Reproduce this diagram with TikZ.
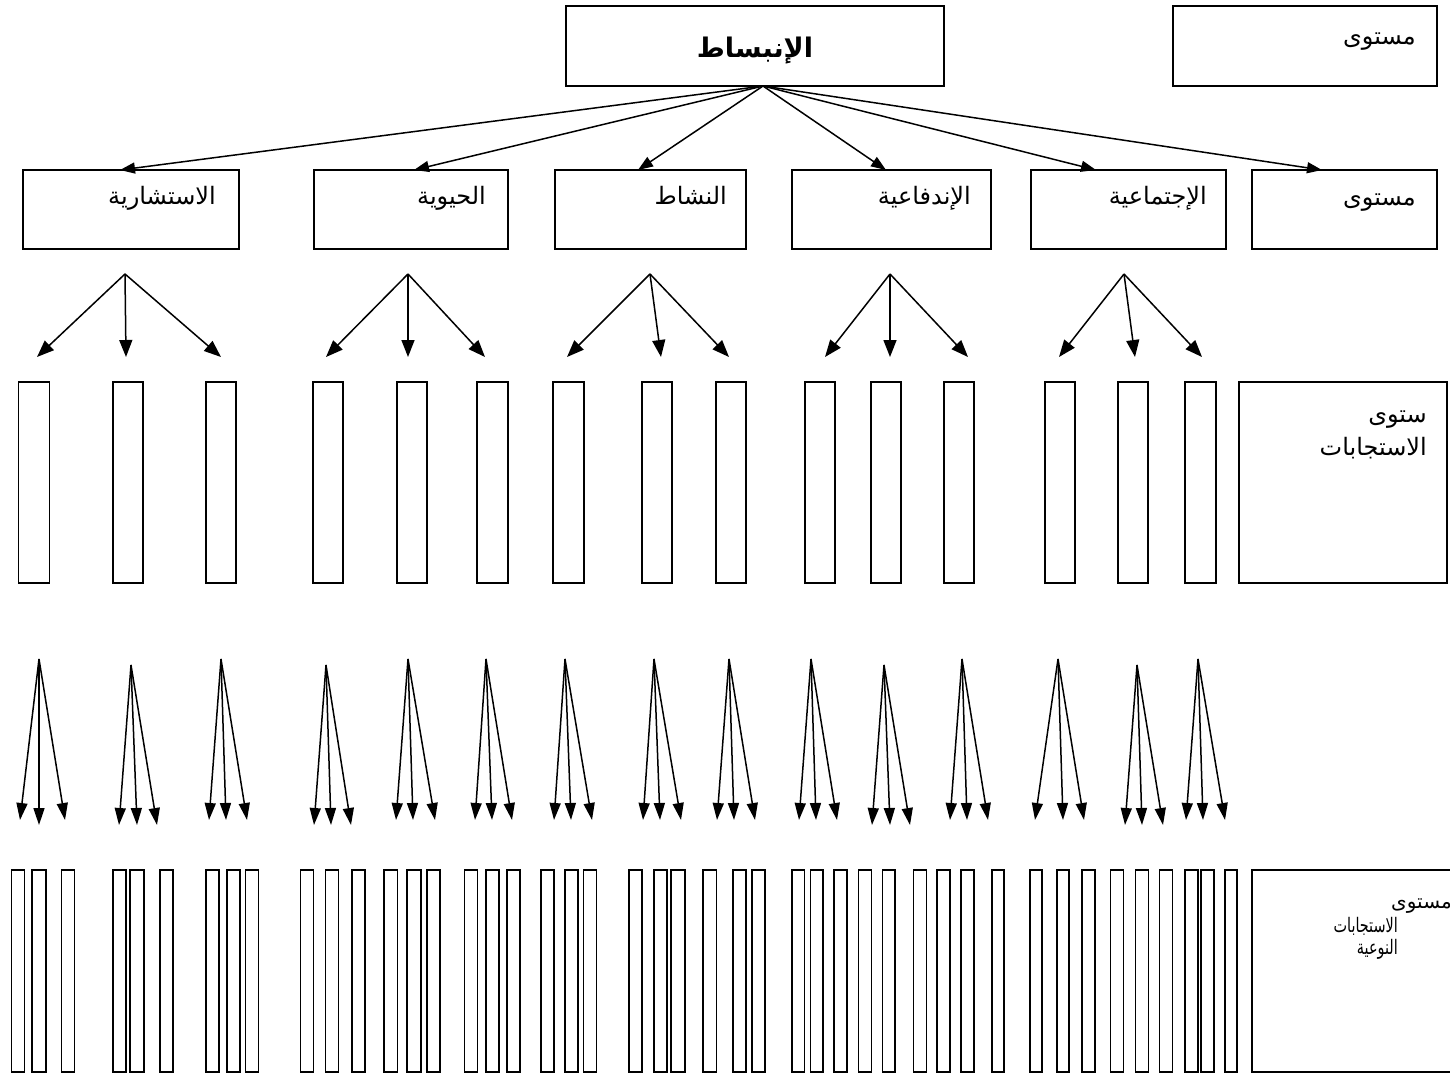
\documentclass[tikz,border=0pt]{standalone}
\usepackage{fontspec}
\usepackage{graphicx}
\newfontfamily\arabicfont[Script=Arabic]{DejaVu Sans}
\TeXXeTstate=1
\usetikzlibrary{arrows.meta}
\tikzset{
  box/.style={draw, line width=1.6pt, inner sep=0pt, rectangle},
  lbl/.style={anchor=base east, inner sep=0pt, font=\arabicfont\fontsize{24}{28}\selectfont},
  smalllbl/.style={anchor=base east, inner sep=0pt, font=\arabicfont\fontsize{20}{24}\selectfont},
  ttl/.style={anchor=base, inner sep=0pt, font=\arabicfont\bfseries\fontsize{27}{32}\selectfont},
  toparr/.style={line width=1.5pt, -{Triangle[length=15pt,width=11pt]}},
  arr/.style={line width=1.5pt, -{Triangle[length=17pt,width=13pt]}},
  farr/.style={line width=1.5pt, -{Triangle[length=17pt,width=11pt]}},
}
\newcommand\mybox[5]{\node[box, minimum width={(#4-#2)*1pt}, minimum height={(#5-#3)*1pt}] (#1) at ({(#2+#4)/2},{(#3+#5)/2}) {};}
\begin{document}
\begin{tikzpicture}[x=1pt,y=-1pt]
\useasboundingbox (0,0) rectangle (1450,1073);
\clip (0,0) rectangle (1450,1073);
% top row
\mybox{main}{566}{6}{944}{86}
\node[ttl] (title) at (755,58) {\beginR الإنبساط\endR};
\mybox{lvl0}{1173}{6}{1437}{86}
\node[lbl] (lvl0t) at (1416,45) {\beginR مستوى\endR};
% second row
\mybox{b1}{23}{170}{239}{249}
\mybox{b2}{314}{170}{508}{249}
\mybox{b3}{555}{170}{746}{249}
\mybox{b4}{792}{170}{991}{249}
\mybox{b5}{1031}{170}{1226}{249}
\mybox{b6}{1252}{170}{1437}{249}
\node[lbl] (b1t) at (216,204) {\beginR الاستشارية\endR};
\node[lbl] (b2t) at (486,204) {\beginR الحيوية\endR};
\node[lbl] (b3t) at (727,204) {\beginR النشاط\endR};
\node[lbl] (b4t) at (971,204) {\beginR الإندفاعية\endR};
\node[lbl] (b5t) at (1207,204) {\beginR الإجتماعية\endR};
\node[lbl] (b6t) at (1416,205) {\beginR مستوى\endR};
\coordinate (src) at (763,86);
\foreach \x [count=\i] in {120,414,638,886,1096,1322}{
  \coordinate (tt\i) at (\x,170);
  \draw[toparr] (src) -- (tt\i);
}
% small arrow groups
\foreach \s/\a/\b/\c [count=\i] in {125/37/126/221, 408/326/408/485, 650/567/661/729, 890/825/890/968, 1124/1059/1135/1202}{
  \coordinate (gs\i) at (\s,274);
  \coordinate (ga\i) at (\a,357);
  \coordinate (gb\i) at (\b,357);
  \coordinate (gc\i) at (\c,357);
  \draw[arr] (gs\i) -- (ga\i);
  \draw[arr] (gs\i) -- (gb\i);
  \draw[arr] (gs\i) -- (gc\i);
}
% tall rectangles
\foreach \a/\b [count=\i] in {18.5/49.5,113/143,206/236,313/343,397/427,477/508,553/584,642/672,716/746,805/835,871/901,944/974,1045/1075,1118/1148,1185/1216}{
  \mybox{r\i}{\a}{382}{\b}{583}
}
\mybox{resp}{1239}{382}{1447}{583}
\node[lbl] (resp1) at (1427,422) {\beginR ستوى\endR};
\node[lbl] (resp2) at (1427,455) {\beginR الاستجابات\endR};
% fans
\foreach \s/\sy/\a/\b/\c/\ty/\tm [count=\i] in {
  39/659/20/39/65/820/825,
  131/665/119/137/157/825/825,
  221/659/209/226/247/820/820,
  326/665/314/331/351/825/825,
  408/659/396/413/435/820/820,
  486/659/475/492/512/820/820,
  565/659/554/571/592/820/820,
  654/659/643/660/681/820/820,
  729/659/717/734/755/820/820,
  811/659/799/816/837/820/820,
  884/665/872/890/910/825/825,
  962/659/950/967/988/820/820,
  1058/659/1035/1063/1084/820/820,
  1137/665/1125/1142/1163/825/825,
  1198/659/1186/1203/1225/820/820}{
  \coordinate (fs\i) at (\s,\sy);
  \coordinate (fa\i) at (\a,\ty);
  \coordinate (fb\i) at (\b,\tm);
  \coordinate (fc\i) at (\c,\ty);
  \draw[farr] (fs\i) -- (fa\i);
  \draw[farr] (fs\i) -- (fb\i);
  \draw[farr] (fs\i) -- (fc\i);
}
% bottom rectangles
\foreach \a/\b [count=\i] in {11.6/24.5,32/46,61.5/74.4,113/126,130/144,160/173,206/219,227/240,245.5/258.4,300.5/313.5,325.5/338.4,352/365,384/397.6,407/421,427/440,464.6/477.6,486/499,506.7/520,541/554,565/578,583.5/596.4,629/642,654/667,671/685,703/716.6,733/746,752/765,792/804.5,810.5/823,834/847,858.6/871.6,882.6/895,913.6/926.6,936.7/949.7,960.8/973.7,991.8/1004,1030/1042,1057/1069,1082/1095,1110.6/1123.5,1135.5/1148.5,1159.6/1172.5,1185/1198,1201/1214,1225/1237}{
  \mybox{q\i}{\a}{870}{\b}{1072}
}
\mybox{spec}{1252}{870}{1470}{1072}
\node[smalllbl] (spec1) at (1452,908) {\beginR مستوى\endR};
\node[smalllbl] (spec2) at (1398,932) {\scalebox{0.72}[1]{\beginR الاستجابات\endR}};
\node[smalllbl] (spec3) at (1398,954) {\scalebox{0.72}[1]{\beginR النوعية\endR}};
\end{tikzpicture}
\end{document}
